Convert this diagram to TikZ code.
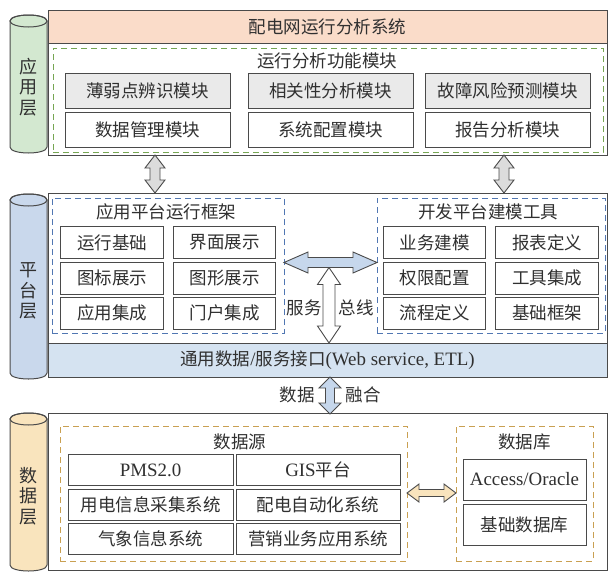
\documentclass[tikz,border=0pt]{standalone}
\usepackage{fontspec}
\setmainfont{Noto Sans CJK SC}
\newfontfamily\lat[Scale=1.08]{Liberation Serif}
\definecolor{txt}{HTML}{303030}
\definecolor{edge}{HTML}{4A4A4A}
\definecolor{salmon}{HTML}{FADCC9}
\definecolor{cylgreen}{HTML}{D3E8D0}
\definecolor{cylblue}{HTML}{C9D8EC}
\definecolor{bandblue}{HTML}{D5E3F1}
\definecolor{cylgold}{HTML}{F9E4BD}
\definecolor{grayfill}{HTML}{EAEAEA}
\definecolor{dashgreen}{HTML}{76A653}
\definecolor{dashblue}{HTML}{5177B2}
\definecolor{dashgold}{HTML}{C9A052}
\definecolor{arrgray}{HTML}{DCDCDC}
\definecolor{arrblue}{HTML}{C6D7EC}
\definecolor{arrgold}{HTML}{F9E4BD}
\newcommand\vdarrow[7]{%
 \draw[#1] (#2,#3) -- (#2+#5,#3+#7) -- (#2+#6,#3+#7) -- (#2+#6,#4-#7) -- (#2+#5,#4-#7) -- (#2,#4) -- (#2-#5,#4-#7) -- (#2-#6,#4-#7) -- (#2-#6,#3+#7) -- (#2-#5,#3+#7) -- cycle;}
\newcommand\hdarrow[7]{%
 \draw[#1] (#3,#2) -- (#3+#7,#2-#5) -- (#3+#7,#2-#6) -- (#4-#7,#2-#6) -- (#4-#7,#2-#5) -- (#4,#2) -- (#4-#7,#2+#5) -- (#4-#7,#2+#6) -- (#3+#7,#2+#6) -- (#3+#7,#2+#5) -- cycle;}
\newcommand\cyl[4]{%
 \filldraw[cylline, fill=#1] (#2,#3) -- (#2,#4) .. controls (#2,#4+8) and (#2+37,#4+8) .. (#2+37,#4) -- (#2+37,#3) .. controls (#2+37,#3-8) and (#2,#3-8) .. (#2,#3) -- cycle;
 \draw[cylline] (#2+18.5,#3) ellipse [x radius=18.5, y radius=6];}
\begin{document}
\begin{tikzpicture}[x=1pt,y=-1pt,
  every node/.style={font=\fontsize{17.5}{20}\selectfont, text=txt, inner sep=0pt},
  cylline/.style={draw=edge, line width=1pt},
  mainbox/.style={draw=edge, line width=1pt, fill=white},
  modbox/.style={draw=edge, line width=1pt, fill=white},
  graybox/.style={modbox, fill=grayfill},
  dgreen/.style={draw=dashgreen, line width=1pt, dash pattern=on 6pt off 4pt},
  dblue/.style={draw=dashblue, line width=1pt, dash pattern=on 6pt off 4pt},
  dgold/.style={draw=dashgold, line width=1pt, dash pattern=on 6pt off 4pt},
  blockarr/.style={draw=edge, line width=0.9pt, line join=miter},
  vlabel/.style={align=center, font=\fontsize{18}{20.5}\selectfont}
]
\useasboundingbox (0,0) rectangle (608,571);

% ================= application layer =================
\cyl{cylgreen}{10}{21}{147}
\node[vlabel] (applbl) at (28.5,87) {应\\用\\层};
\node[mainbox, minimum width=559, minimum height=145] (app) at (327.5,82.5) {};
\node[mainbox, fill=salmon, minimum width=559, minimum height=33] (title) at (327.5,26.5) {配电网运行分析系统};
\node[dgreen, minimum width=550, minimum height=104] (func) at (328,100) {};
\node (funclbl) at (327,61) {运行分析功能模块};
\node[graybox, minimum width=165, minimum height=35] (m11) at (147.5,90.5) {薄弱点辨识模块};
\node[graybox, minimum width=165, minimum height=35] (m12) at (330.5,90.5) {相关性分析模块};
\node[graybox, minimum width=165, minimum height=35] (m13) at (507.5,90.5) {故障风险预测模块};
\node[modbox, minimum width=165, minimum height=35] (m21) at (147.5,130) {数据管理模块};
\node[modbox, minimum width=165, minimum height=35] (m22) at (330.5,130) {系统配置模块};
\node[modbox, minimum width=165, minimum height=35] (m23) at (507.5,130) {报告分析模块};

% ================= platform layer =================
\cyl{cylblue}{10}{200}{373}
\node[vlabel] (platlbl) at (28.5,291) {平\\台\\层};
\node[mainbox, minimum width=559, minimum height=184] (plat) at (327.5,285) {};
\node[mainbox, fill=bandblue, minimum width=559, minimum height=34] (band) at (327.5,360) {通用数据{\lat /}服务接口{\lat (Web service, ETL)}};
\node[dblue, minimum width=232, minimum height=135] (runfw) at (168,265.5) {};
\node (runlbl) at (166,212) {应用平台运行框架};
\node[dblue, minimum width=228, minimum height=135] (devtool) at (491,265.5) {};
\node (devlbl) at (488,212) {开发平台建模工具};
\foreach \nm/\cx/\cy/\t in {a1/112/242.5/运行基础, a2/224.5/242.5/界面展示,
  a3/112/278/图标展示, a4/224.5/278/图形展示, a5/112/313/应用集成, a6/224.5/313/门户集成,
  b1/434.5/242.5/业务建模, b2/547/242.5/报表定义, b3/434.5/278/权限配置, b4/547/278/工具集成,
  b5/434.5/313/流程定义, b6/547/313/基础框架}
  \node[modbox, minimum width=102.5, minimum height=32] (\nm) at (\cx,\cy) {\t};

% bus arrows
\vdarrow{blockarr, fill=white}{329}{267.5}{343}{11.5}{6}{17}
\hdarrow{blockarr, fill=arrblue}{262.5}{284}{377}{10.5}{5}{24}
\node (svc) at (304,308) {服务};
\node (bus) at (356,308) {总线};

% arrows between application and platform
\vdarrow{blockarr, fill=arrgray}{155}{155}{193}{10}{5}{13}
\vdarrow{blockarr, fill=arrgray}{504}{155}{193}{10}{5}{13}

% ================= data layer =================
\cyl{cylgold}{10}{419}{565}
\node[vlabel] (datalbl) at (28.5,496) {数\\据\\层};
\node[mainbox, minimum width=559, minimum height=157] (data) at (327.5,491.5) {};
\node[dgold, minimum width=347, minimum height=135] (src) at (233.5,493.5) {};
\node (srclbl) at (240,442) {数据源};
\node[dgold, minimum width=137, minimum height=135] (db) at (524.5,493.5) {};
\node (dblbl) at (524.5,442) {数据库};
\node[modbox, minimum width=165, minimum height=31] (s1) at (150.5,470) {\lat PMS2.0};
\node[modbox, minimum width=164, minimum height=31] (s2) at (318,470) {{\lat GIS}平台};
\node[modbox, minimum width=165, minimum height=31] (s3) at (150.5,504.5) {用电信息采集系统};
\node[modbox, minimum width=164, minimum height=31] (s4) at (318,504.5) {配电自动化系统};
\node[modbox, minimum width=165, minimum height=31] (s5) at (150.5,539) {气象信息系统};
\node[modbox, minimum width=164, minimum height=31] (s6) at (318,539) {营销业务应用系统};
\node[modbox, minimum width=123, minimum height=41] (d1) at (524.5,479.5) {\lat Access/Oracle};
\node[modbox, minimum width=123, minimum height=41] (d2) at (524.5,524.5) {基础数据库};

% data fusion arrow
\vdarrow{blockarr, fill=arrblue}{330}{377}{414}{11}{4.5}{11}
\node (fuse1) at (297,395) {数据};
\node (fuse2) at (363,395) {融合};
% source <-> database arrow
\hdarrow{blockarr, fill=arrgold}{493}{407}{456}{9}{3.5}{12}
\end{tikzpicture}
\end{document}
